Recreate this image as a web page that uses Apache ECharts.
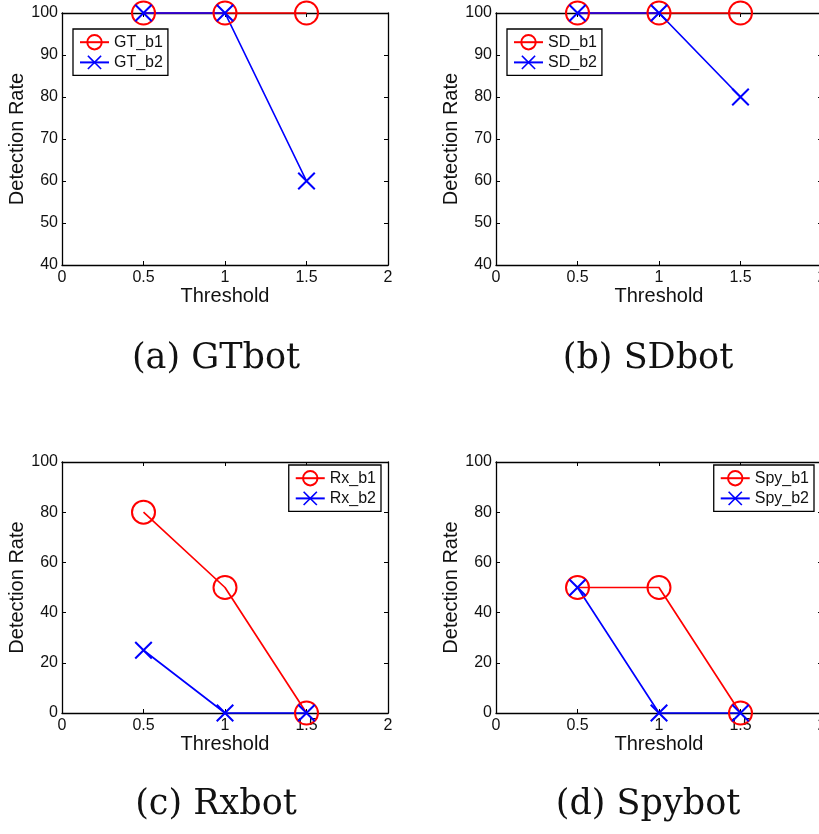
<!DOCTYPE html>
<html><head><meta charset="utf-8">
<script src="https://cdn.jsdelivr.net/npm/echarts@6/dist/echarts.min.js"></script>
<style>html,body{margin:0;padding:0;background:#fff}#c{width:819px;height:834px}</style>
</head><body><div id="c"></div>
<script>
// ---- data ----
var thresholds = [0.5, 1, 1.5];
var xTicks = [0, 0.5, 1, 1.5, 2];
var gt_b1 = [100, 100, 100];
var gt_b2 = [100, 100, 60];
var sd_b1 = [100, 100, 100];
var sd_b2 = [100, 100, 80];
var rx_b1 = [80, 50, 0];
var rx_b2 = [25, 0, 0];
var spy_b1 = [50, 50, 0];
var spy_b2 = [50, 0, 0];
var panelNames = [["GT_b1", "GT_b2"], ["SD_b1", "SD_b2"], ["Rx_b1", "Rx_b2"], ["Spy_b1", "Spy_b2"]];
var captions = ["(a) GTbot", "(b) SDbot", "(c) Rxbot", "(d) Spybot"];
var yRanges = [[40, 100, 10], [40, 100, 10], [0, 100, 20], [0, 100, 20]];
var seriesData = [[gt_b1, gt_b2], [sd_b1, sd_b2], [rx_b1, rx_b2], [spy_b1, spy_b2]];

var X_PATH = 'path://M0,8L8,0L50,42L92,0L100,8L58,50L100,92L92,100L50,58L8,100L0,92L42,50Z';
var font = 'Liberation Sans';
var grids = [
  {left: 62, top: 13, width: 326, height: 252},
  {left: 496, top: 13, width: 326, height: 252},
  {left: 62, top: 462, width: 326, height: 251},
  {left: 496, top: 462, width: 326, height: 251}
];
var legendPos = [
  {left: 73, top: 29},
  {left: 507, top: 29},
  {right: 438, top: 465},
  {right: 5, top: 465}
];
var capPos = [[216, 359], [648, 359], [216, 805], [648, 805]];

var option = {animation: false, backgroundColor: '#fff', grid: [], xAxis: [], yAxis: [], series: [], legend: [], graphic: []};

for (var i = 0; i < 4; i++) {
  option.grid.push(Object.assign({outerBoundsMode: 'none', containLabel: false}, grids[i]));
  var lbl = {color: '#111', fontFamily: font, fontSize: 16};
  option.xAxis.push({
    type: 'value', gridIndex: i, min: 0, max: 2, interval: 0.5, position: 'bottom',
    axisLine: {show: true, onZero: false, lineStyle: {color: '#000', width: 1.3}},
    axisTick: {show: true, inside: true, length: 4, lineStyle: {color: '#000'}},
    axisLabel: Object.assign({margin: 5, formatter: function (v) { return String(v); }}, lbl),
    splitLine: {show: false},
    name: 'Threshold', nameLocation: 'middle', nameGap: 19,
    nameTextStyle: {color: '#111', fontFamily: font, fontSize: 20, verticalAlign: 'top'}
  });
  option.xAxis.push({
    type: 'value', gridIndex: i, min: 0, max: 2, interval: 0.5, position: 'top',
    axisLine: {show: true, onZero: false, lineStyle: {color: '#000', width: 1.3}},
    axisTick: {show: true, inside: true, length: 4, lineStyle: {color: '#000'}},
    axisLabel: {show: false}, splitLine: {show: false}
  });
  var yr = yRanges[i];
  option.yAxis.push({
    type: 'value', gridIndex: i, min: yr[0], max: yr[1], interval: yr[2], position: 'left',
    axisLine: {show: true, onZero: false, lineStyle: {color: '#000', width: 1.3}},
    axisTick: {show: true, inside: true, length: 4, lineStyle: {color: '#000'}},
    axisLabel: Object.assign({margin: 4}, lbl),
    splitLine: {show: false},
    name: 'Detection Rate', nameLocation: 'middle', nameGap: 34,
    nameTextStyle: {color: '#111', fontFamily: font, fontSize: 20}
  });
  option.yAxis.push({
    type: 'value', gridIndex: i, min: yr[0], max: yr[1], interval: yr[2], position: 'right',
    axisLine: {show: true, onZero: false, lineStyle: {color: '#000', width: 1.3}},
    axisTick: {show: true, inside: true, length: 4, lineStyle: {color: '#000'}},
    axisLabel: {show: false}, splitLine: {show: false}
  });
  var names = panelNames[i];
  var d = seriesData[i];
  option.series.push({
    type: 'line', name: names[0], xAxisIndex: 2 * i, yAxisIndex: 2 * i,
    data: thresholds.map(function (t, k) { return [t, d[0][k]]; }),
    symbol: 'circle', symbolSize: 23, clip: false,
    lineStyle: {color: '#ff0000', width: 1.7},
    itemStyle: {color: 'rgba(0,0,0,0)', borderColor: '#ff0000', borderWidth: 2}
  });
  option.series.push({
    type: 'line', name: names[1], xAxisIndex: 2 * i, yAxisIndex: 2 * i,
    data: thresholds.map(function (t, k) { return [t, d[1][k]]; }),
    symbol: X_PATH, symbolSize: 18, clip: false,
    lineStyle: {color: '#0000ff', width: 1.7},
    itemStyle: {color: '#0000ff', borderWidth: 0}
  });
  option.legend.push(Object.assign({
    data: names, orient: 'vertical', itemWidth: 29, itemHeight: 18, itemGap: 4,
    padding: [5, 5, 5, 6], borderColor: '#000', borderWidth: 1.3, backgroundColor: '#fff',
    textStyle: {color: '#111', fontFamily: font, fontSize: 16}
  }, legendPos[i]));
}
option.graphic = captions.map(function (c, i) {
  return {type: 'text', x: capPos[i][0], y: capPos[i][1],
    style: {text: c, font: '35px "DejaVu Serif"', fill: '#111', align: 'center', verticalAlign: 'middle'}};
});
var chart = echarts.init(document.getElementById('c'), null, {renderer: 'canvas'});
chart.setOption(option);
</script></body></html>
